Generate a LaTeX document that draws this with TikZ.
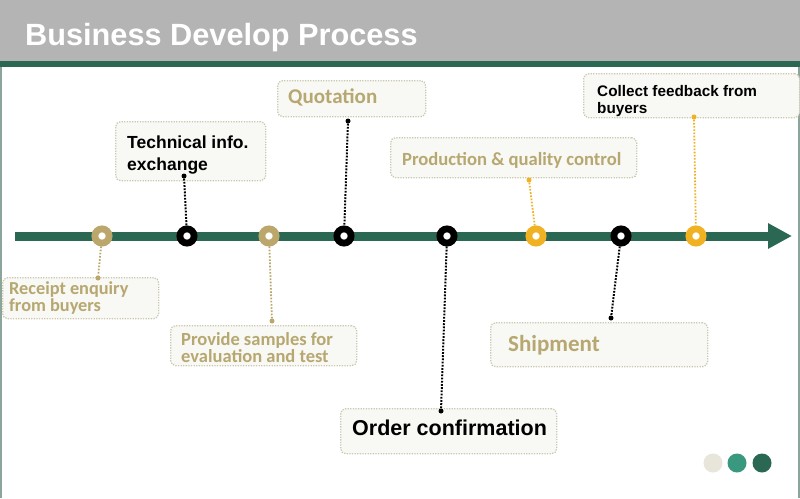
\documentclass[tikz,border=0pt]{standalone}
\usepackage{fontspec}
\setmainfont{Liberation Sans}
\newfontfamily\calfont{Carlito}
\usetikzlibrary{arrows.meta}
\definecolor{hdrgray}{RGB}{180,180,180}
\definecolor{dkgreen}{RGB}{43,104,84}
\definecolor{tanring}{RGB}{187,166,107}
\definecolor{tantext}{RGB}{183,167,112}
\definecolor{goldring}{RGB}{240,178,35}
\definecolor{boxfill}{RGB}{248,248,244}
\definecolor{boxline}{RGB}{204,200,176}
\definecolor{beigedot}{RGB}{232,230,218}
\definecolor{tealdot}{RGB}{58,152,126}
\definecolor{edgeline}{RGB}{140,165,155}
\begin{document}
\begin{tikzpicture}[x=1pt,y=-1pt,
  box/.style={draw=boxline, fill=boxfill, dash pattern=on 1.3pt off 1.3pt, line width=1.3pt, rounded corners=5pt, inner sep=0pt, anchor=north west},
  ring/.style={circle, fill=white, line width=6.8pt, minimum size=14.2pt, inner sep=0pt},
  blackring/.style={ring, draw=black},
  tanringst/.style={ring, draw=tanring},
  goldringst/.style={ring, draw=goldring},
  pinblack/.style={circle, fill=black, inner sep=0pt, minimum size=5pt},
  pintan/.style={circle, fill=tanring, inner sep=0pt, minimum size=5pt},
  pingold/.style={circle, fill=goldring, inner sep=0pt, minimum size=5pt},
  connblack/.style={draw=black, line width=2pt, dash pattern=on 1.8pt off 1.4pt},
  conntan/.style={draw=tanring, line width=1.8pt, dash pattern=on 1.6pt off 1.6pt},
  conngold/.style={draw=goldring, line width=1.8pt, dash pattern=on 1.6pt off 1.6pt},
  blacktxt/.style={anchor=base west, inner sep=0pt, text=black},
  tantxt/.style={anchor=base west, inner sep=0pt, text=tantext},
  endot/.style={circle, inner sep=0pt, minimum size=19pt}
]
\useasboundingbox (0,0) rectangle (800,498);
\fill[white] (0,0) rectangle (800,498);
% header
\fill[hdrgray] (0,0) rectangle (800,61);
\fill[dkgreen] (0,61) rectangle (800,67);
\draw[edgeline, line width=1.5pt] (0.75,67) -- (0.75,498);
\draw[edgeline, line width=1.5pt] (799,67) -- (799,498);
\node[anchor=base west, inner sep=0pt, text=white, font=\bfseries\fontsize{30.7}{36}\selectfont] (title) at (25,45) {Business Develop Process};

% timeline
\coordinate (tlstart) at (15,236);
\coordinate (tlend) at (792,236);
\draw[dkgreen, line width=9pt, -{Triangle[length=24pt,width=24pt]}] (tlstart) -- (tlend);

% boxes
\node[box, minimum width=156pt, minimum height=41pt] (receiptbox) at (2,277) {};
\node[box, minimum width=150pt, minimum height=59pt] (techbox) at (115,121) {};
\node[box, minimum width=148pt, minimum height=36pt] (quotebox) at (277,80) {};
\node[box, minimum width=186pt, minimum height=40pt] (samplebox) at (170,325) {};
\node[box, minimum width=246pt, minimum height=40pt] (prodbox) at (390,137) {};
\node[box, minimum width=216pt, minimum height=45pt] (orderbox) at (340,408) {};
\node[box, minimum width=217pt, minimum height=44pt] (shipbox) at (490,322) {};
\node[box, minimum width=216pt, minimum height=44pt] (feedbox) at (583,73) {};

% texts
\node[tantxt, font=\calfont\bfseries\fontsize{18.3}{20}\selectfont] (receipt1) at (9,294) {Receipt enquiry};
\node[tantxt, font=\calfont\bfseries\fontsize{18.3}{20}\selectfont] (receipt2) at (9,311) {from buyers};
\node[blacktxt, font=\bfseries\fontsize{17.5}{20}\selectfont] (tech1) at (127,148) {Technical info.};
\node[blacktxt, font=\bfseries\fontsize{17.5}{20}\selectfont] (tech2) at (127,170) {exchange};
\node[tantxt, font=\calfont\bfseries\fontsize{21}{24}\selectfont] (quote1) at (288,103) {Quotation};
\node[tantxt, font=\calfont\bfseries\fontsize{18.5}{20}\selectfont] (sample1) at (181,345) {Provide samples for};
\node[tantxt, font=\calfont\bfseries\fontsize{18.5}{20}\selectfont] (sample2) at (181,362) {evaluation and test};
\node[tantxt, font=\calfont\bfseries\fontsize{18.6}{20}\selectfont] (prod1) at (402,165) {Production \& quality control};
\node[blacktxt, font=\bfseries\fontsize{21.5}{24}\selectfont] (order1) at (352,435) {Order confirmation};
\node[tantxt, font=\calfont\bfseries\fontsize{23}{26}\selectfont] (ship1) at (508,351) {Shipment};
\node[blacktxt, font=\bfseries\fontsize{15.3}{18}\selectfont] (feed1) at (597,96) {Collect feedback from};
\node[blacktxt, font=\bfseries\fontsize{15.3}{18}\selectfont] (feed2) at (597,113) {buyers};

% pins on boxes
\node[pintan] (p1) at (98,278) {};
\node[pinblack] (p2) at (184,176) {};
\node[pintan] (p3) at (272,321) {};
\node[pinblack] (p4) at (348,121) {};
\node[pinblack] (p5) at (441,411) {};
\node[pingold] (p6) at (529,180) {};
\node[pinblack] (p7) at (611,318) {};
\node[pingold] (p8) at (694,117) {};

% rings on timeline
\node[tanringst] (r1) at (102,236) {};
\node[blackring] (r2) at (187,236) {};
\node[tanringst] (r3) at (269,236) {};
\node[blackring] (r4) at (344,236) {};
\node[blackring] (r5) at (447,236) {};
\node[goldringst] (r6) at (536,236) {};
\node[blackring] (r7) at (621,236) {};
\node[goldringst] (r8) at (696,236) {};

% connectors
\draw[conntan] (r1) -- (p1);
\draw[connblack] (p2) -- (r2);
\draw[conntan] (r3) -- (p3);
\draw[connblack] (p4) -- (r4);
\draw[connblack] (r5) -- (p5);
\draw[conngold] (p6) -- (r6);
\draw[connblack] (r7) -- (p7);
\draw[conngold] (p8) -- (r8);

% bottom-right dots
\node[endot, fill=beigedot] (d1) at (713,463) {};
\node[endot, fill=tealdot] (d2) at (737,463) {};
\node[endot, fill=dkgreen] (d3) at (762,463) {};
\end{tikzpicture}
\end{document}
